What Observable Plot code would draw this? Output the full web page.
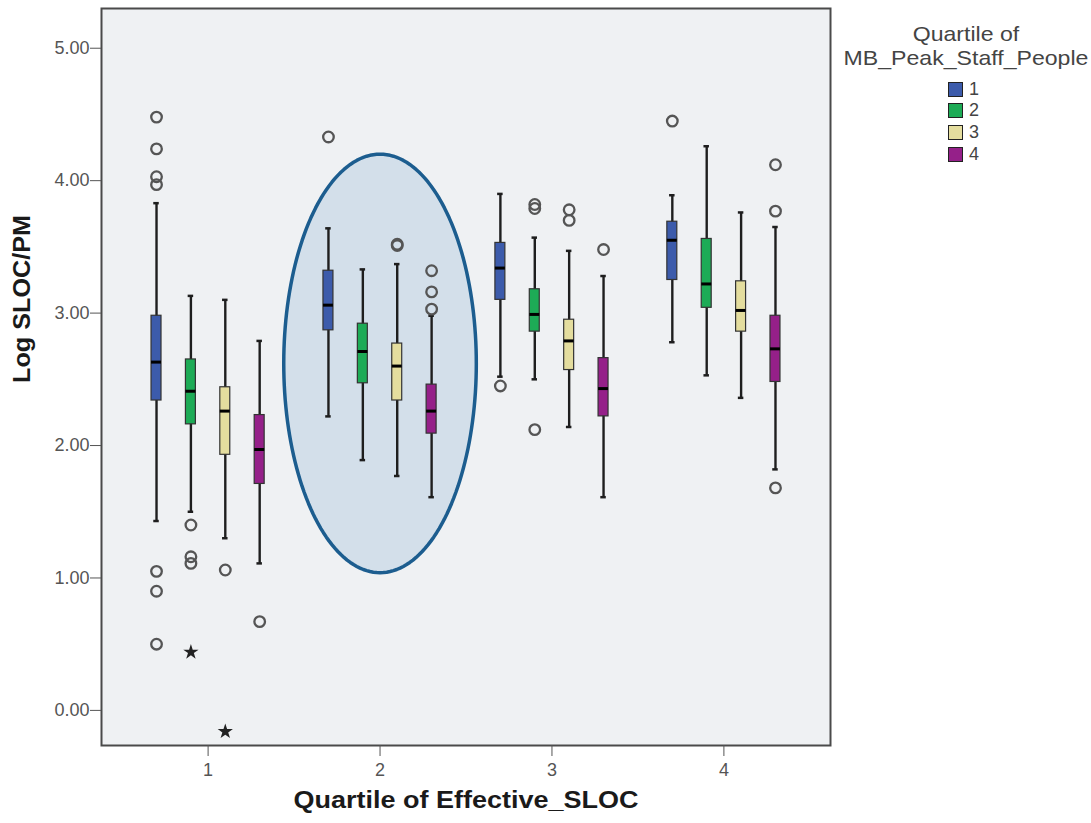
<!DOCTYPE html>
<html>
<head>
<meta charset="utf-8">
<script src="https://cdn.jsdelivr.net/npm/d3@7"></script>
<script src="https://cdn.jsdelivr.net/npm/@observablehq/plot@0.6"></script>
<style>
  html, body { margin: 0; padding: 0; background: #ffffff; }
  #wrap { position: relative; width: 1091px; height: 823px; font-family: "Liberation Sans", Arial, sans-serif; }
  #legend { position: absolute; left: 830px; top: 0; width: 261px; color: #444; }
  #legend .title { position: absolute; top: 22px; left: 0; width: 272px; text-align: center; font-size: 21px; line-height: 24px; transform: scaleX(1.1); transform-origin: 136px 0; white-space: nowrap; }
  #legend .item { position: absolute; left: 118px; height: 22px; display: flex; align-items: center; font-size: 18px; }
  #legend .sw { width: 13px; height: 13px; border: 1.5px solid #222; margin-right: 6px; }
</style>
</head>
<body>
<div id="wrap"><div id="legend"></div></div>
<script>
// ---- data ----
const groups = [1, 2, 3, 4];                      // Quartile of Effective_SLOC
const series = ["1", "2", "3", "4"];              // Quartile of MB_Peak_Staff_People
const seriesColors = ["#3c5bab", "#1dab56", "#e4dd9e", "#952089"];
const yTicks = [0, 1, 2, 3, 4, 5];

// one entry per box: group 1 (s1..s4), group 2 (s1..s4), ...
const boxGroup  = [1,1,1,1, 2,2,2,2, 3,3,3,3, 4,4,4,4];
const boxSeries = ["1","2","3","4", "1","2","3","4", "1","2","3","4", "1","2","3","4"];
const whiskerLow  = [1.43,1.50,1.30,1.11, 2.22,1.89,1.77,1.61, 2.52,2.50,2.14,1.61, 2.78,2.53,2.36,1.82];
const q1          = [2.34,2.16,1.93,1.71, 2.87,2.47,2.34,2.09, 3.10,2.86,2.57,2.22, 3.25,3.04,2.86,2.48];
const median      = [2.63,2.41,2.26,1.97, 3.06,2.71,2.60,2.26, 3.34,2.99,2.79,2.43, 3.55,3.22,3.02,2.73];
const q3          = [2.98,2.65,2.44,2.23, 3.32,2.92,2.77,2.46, 3.53,3.18,2.95,2.66, 3.69,3.56,3.24,2.98];
const whiskerHigh = [3.83,3.13,3.10,2.79, 3.64,3.33,3.37,2.98, 3.90,3.57,3.47,3.28, 3.89,4.26,3.76,3.65];

// outliers (circles)
const outGroup  = [1,1,1,1,1,1,1, 1,1,1, 1, 1, 2, 2,2, 2,2,2, 3, 3,3,3, 3,3, 3, 4, 4,4,4];
const outSeries = ["1","1","1","1","1","1","1", "2","2","2", "3", "4", "1", "3","3", "4","4","4", "1", "2","2","2", "3","3", "4", "1", "4","4","4"];
const outValue  = [4.48,4.24,4.03,3.97,1.05,0.90,0.50, 1.40,1.16,1.11, 1.06, 0.67, 4.33, 3.52,3.51, 3.32,3.16,3.03, 2.45, 3.82,3.79,2.12, 3.78,3.70, 3.48, 4.45, 4.12,3.77,1.68];

// extremes (stars)
const extGroup  = [1, 1];
const extSeries = ["2", "3"];
const extValue  = [0.44, -0.16];

// highlighted region (ellipse annotation), in data units
const ellipseCenter = [2.0, 2.62];
const ellipseRadii  = [0.56, 1.58];

const xTitle = "Quartile of Effective_SLOC";
const yTitle = "Log SLOC/PM";
const legendTitle = ["Quartile of", "MB_Peak_Staff_People"];

// ---- layout helpers ----
const offsets = [-0.3, -0.1, 0.1, 0.3];
const pos = (g, s) => g + offsets[series.indexOf(s)];
const boxHalf = 0.029, capHalf = 0.016;

const boxes = boxGroup.map((g, i) => ({
  g, s: boxSeries[i], x: pos(g, boxSeries[i]),
  lo: whiskerLow[i], q1: q1[i], med: median[i], q3: q3[i], hi: whiskerHigh[i]
}));
const outliers = outGroup.map((g, i) => ({x: pos(g, outSeries[i]), y: outValue[i]}));
const extremes = extGroup.map((g, i) => ({x: pos(g, extSeries[i]), y: extValue[i]}));
const ellipse = d3.range(0, 361, 2).map(a => ({
  x: ellipseCenter[0] + ellipseRadii[0] * Math.cos(a * Math.PI / 180),
  y: ellipseCenter[1] + ellipseRadii[1] * Math.sin(a * Math.PI / 180)
}));

const chart = Plot.plot({
  width: 1091,
  height: 823,
  marginLeft: 101,
  marginRight: 261,
  marginTop: 8,
  marginBottom: 78,
  style: {fontFamily: "'Liberation Sans', Arial, sans-serif", fontSize: "18px", background: "transparent"},
  x: {domain: [0.38, 4.62]},
  y: {domain: [-0.265, 5.3]},
  color: {domain: series, range: seriesColors},
  marks: [
    Plot.frame({fill: "#eff1f3", stroke: "none"}),
    Plot.line(ellipse, {x: "x", y: "y", fill: "#d3dfea", stroke: "#1c5d8f", strokeWidth: 3.5}),
    Plot.ruleX(boxes, {x: "x", y1: "lo", y2: "hi", stroke: "#1e1e1e", strokeWidth: 2.4}),
    Plot.ruleY(boxes, {y: "lo", x1: d => d.x - capHalf, x2: d => d.x + capHalf, stroke: "#1e1e1e", strokeWidth: 2.5}),
    Plot.ruleY(boxes, {y: "hi", x1: d => d.x - capHalf, x2: d => d.x + capHalf, stroke: "#1e1e1e", strokeWidth: 2.5}),
    Plot.rect(boxes, {x1: d => d.x - boxHalf, x2: d => d.x + boxHalf, y1: "q1", y2: "q3", fill: "s", stroke: "#333", strokeWidth: 1.2}),
    Plot.ruleY(boxes, {y: "med", x1: d => d.x - boxHalf, x2: d => d.x + boxHalf, stroke: "#000", strokeWidth: 3}),
    Plot.dot(outliers, {x: "x", y: "y", r: 5.3, stroke: "#555", strokeWidth: 2.3, fill: "none"}),
    Plot.dot(extremes, {x: "x", y: "y", r: 4.8, symbol: "star", fill: "#222", stroke: "none"}),
    Plot.frame({stroke: "#4a4a4a", strokeWidth: 2}),
    Plot.axisY({ticks: yTicks, tickFormat: d3.format(".2f"), tickSize: 11, tickPadding: 1, color: "#555", label: null}),
    Plot.axisX({ticks: groups, tickFormat: d => String(d), tickSize: 11, tickPadding: 7, color: "#555", label: null}),
    Plot.text([xTitle], {frameAnchor: "bottom", dy: 62, fontSize: 24, fontWeight: "bold", fill: "#1a1a1a"}),
    Plot.text([yTitle], {frameAnchor: "left", dx: -79, dy: 6, rotate: -90, fontSize: 24, fontWeight: "bold", fill: "#1a1a1a"})
  ]
});

// tick label size and slight horizontal stretch of the titles to match the reference
chart.querySelectorAll('g[aria-label$="tick label"]').forEach(g => g.setAttribute("font-size", "18"));
chart.querySelectorAll("text").forEach(t => {
  if (t.textContent === xTitle) { t.setAttribute("textLength", 345); t.setAttribute("lengthAdjust", "spacingAndGlyphs"); }
  if (t.textContent === yTitle) { t.setAttribute("textLength", 168); t.setAttribute("lengthAdjust", "spacingAndGlyphs"); }
});

const wrap = document.getElementById("wrap");
wrap.insertBefore(chart, wrap.firstChild);

// legend
const legend = d3.select("#legend");
legend.append("div").attr("class", "title").html(legendTitle.join("<br>"));
series.forEach((s, i) => {
  const item = legend.append("div").attr("class", "item").style("top", (78 + i * 21.7) + "px");
  item.append("div").attr("class", "sw").style("background", seriesColors[i]);
  item.append("span").text(s);
});
</script>
</body>
</html>
